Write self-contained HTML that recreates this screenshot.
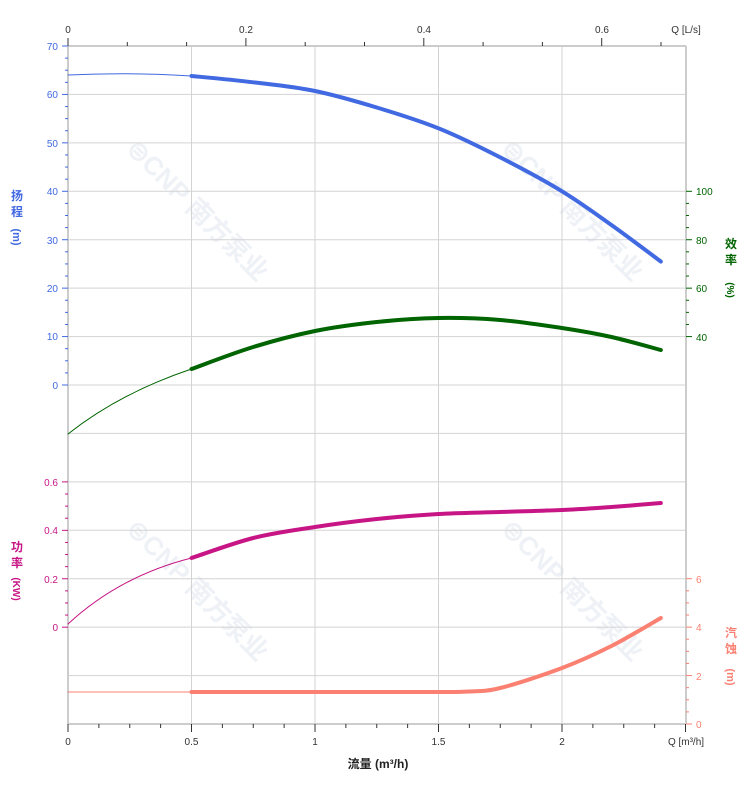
<!DOCTYPE html>
<html><head><meta charset="utf-8"><style>
html,body{margin:0;padding:0;background:#fff;}
svg{display:block;font-family:"Liberation Sans","Noto Sans CJK SC",sans-serif;}
</style></head><body>
<svg id="s" width="752" height="797" viewBox="0 0 752 797" xmlns="http://www.w3.org/2000/svg">
<g font-size="26" fill="#eef1f6" font-weight="bold">
<text transform="translate(125,150) rotate(45)">⊜CNP 南方泵业</text>
<text transform="translate(500,150) rotate(45)">⊜CNP 南方泵业</text>
<text transform="translate(125,530) rotate(45)">⊜CNP 南方泵业</text>
<text transform="translate(500,530) rotate(45)">⊜CNP 南方泵业</text>
</g>
<g stroke="#d3d3d3" stroke-width="1">
<line x1="68" y1="94.4" x2="686" y2="94.4"/><line x1="68" y1="142.9" x2="686" y2="142.9"/><line x1="68" y1="191.3" x2="686" y2="191.3"/><line x1="68" y1="239.7" x2="686" y2="239.7"/><line x1="68" y1="288.1" x2="686" y2="288.1"/><line x1="68" y1="336.6" x2="686" y2="336.6"/><line x1="68" y1="385" x2="686" y2="385"/><line x1="68" y1="433.4" x2="686" y2="433.4"/><line x1="68" y1="481.9" x2="686" y2="481.9"/><line x1="68" y1="530.3" x2="686" y2="530.3"/><line x1="68" y1="578.7" x2="686" y2="578.7"/><line x1="68" y1="627.1" x2="686" y2="627.1"/><line x1="68" y1="675.6" x2="686" y2="675.6"/>
<line x1="191.5" y1="46" x2="191.5" y2="724"/><line x1="315" y1="46" x2="315" y2="724"/><line x1="438.5" y1="46" x2="438.5" y2="724"/><line x1="562" y1="46" x2="562" y2="724"/>
</g>
<line x1="68" y1="724" x2="686" y2="724" stroke="#ccc" stroke-width="2"/>
<line x1="68" y1="46" x2="686" y2="46" stroke="#ccc" stroke-width="2"/>
<line x1="68" y1="46" x2="68" y2="724" stroke="#ccc" stroke-width="2"/>
<line x1="686" y1="46" x2="686" y2="724" stroke="#ccc" stroke-width="2"/>
<g id="ticks" stroke-width="1"></g>
<g font-size="10" fill="#333" text-anchor="middle">
<text x="68" y="745">0</text><text x="191.5" y="745">0.5</text><text x="315" y="745">1</text><text x="438.5" y="745">1.5</text><text x="562" y="745">2</text><text x="686" y="745">Q [m³/h]</text>
<text x="68" y="33">0</text><text x="246" y="33">0.2</text><text x="424" y="33">0.4</text><text x="602" y="33">0.6</text><text x="686" y="33">Q [L/s]</text>
</g>
<text x="378" y="768" font-size="12" font-weight="bold" text-anchor="middle" fill="#222">流量 (m³/h)</text>
<g font-size="10" fill="#4169e1" text-anchor="end">
<text x="58" y="50">70</text><text x="58" y="98">60</text><text x="58" y="147">50</text><text x="58" y="195">40</text><text x="58" y="244">30</text><text x="58" y="292">20</text><text x="58" y="340">10</text><text x="58" y="389">0</text>
</g>
<g font-size="10" fill="#c71585" text-anchor="end">
<text x="58" y="486">0.6</text><text x="58" y="534">0.4</text><text x="58" y="583">0.2</text><text x="58" y="631">0</text>
</g>
<g font-size="10" fill="#006400">
<text x="696" y="195">100</text><text x="696" y="244">80</text><text x="696" y="292">60</text><text x="696" y="341">40</text>
</g>
<g font-size="10" fill="#fa8072">
<text x="696" y="583">6</text><text x="696" y="631">4</text><text x="696" y="680">2</text><text x="696" y="728">0</text>
</g>
<g font-size="12" font-weight="bold" text-anchor="middle">
<text x="17" y="200" fill="#4169e1">扬</text><text x="17" y="216" fill="#4169e1">程</text><text transform="translate(13,237) rotate(90)" fill="#4169e1" font-size="11">(m)</text>
<text x="17" y="551" fill="#c71585">功</text><text x="17" y="567" fill="#c71585">率</text><text transform="translate(13,589) rotate(90)" fill="#c71585" font-size="10">(KW)</text>
<text x="731" y="248" fill="#006400">效</text><text x="731" y="264" fill="#006400">率</text><text transform="translate(727,290) rotate(90)" fill="#006400" font-size="10">(%)</text>
<text x="731" y="637" fill="#fa8072">汽</text><text x="731" y="653" fill="#fa8072">蚀</text><text transform="translate(727,677) rotate(90)" fill="#fa8072" font-size="11">(m)</text>
</g>
<g fill="none" stroke-linecap="round" stroke-linejoin="round">
<path d="M68,75 Q130,72 191.5,76" stroke="#4169e1" stroke-width="1"/>
<path id="h" stroke="#4169e1" stroke-width="4"/>
<path d="M68,434 Q120,393 191.5,369" stroke="#006400" stroke-width="1"/>
<path id="e" stroke="#006400" stroke-width="4"/>
<path d="M68,624 Q120,576 191.5,558" stroke="#c71585" stroke-width="1"/>
<path id="p" stroke="#c71585" stroke-width="4"/>
<path d="M68,692 L191.5,692" stroke="#fa8072" stroke-width="1"/>
<path id="n" stroke="#fa8072" stroke-width="4"/>
</g>
</svg>
<script>
function X(q){return 68+247*q;}
function cr(pts){var d="M"+pts[0][0]+","+pts[0][1];for(var i=0;i<pts.length-1;i++){var p0=pts[i-1]||pts[i],p1=pts[i],p2=pts[i+1],p3=pts[i+2]||p2;
d+=" C"+(p1[0]+(p2[0]-p0[0])/6).toFixed(1)+","+(p1[1]+(p2[1]-p0[1])/6).toFixed(1)+" "+(p2[0]-(p3[0]-p1[0])/6).toFixed(1)+","+(p2[1]-(p3[1]-p1[1])/6).toFixed(1)+" "+p2[0]+","+p2[1];}return d;}
function P(a){return a.map(function(v){return [X(v[0]),v[1]];});}
document.getElementById("h").setAttribute("d",cr(P([[0.5,76],[0.75,82.3],[1,91],[1.25,107.5],[1.5,128.3],[1.75,157.4],[2,191.3],[2.2,225],[2.4,261.5]])));
document.getElementById("e").setAttribute("d",cr(P([[0.5,369],[0.75,347],[1,331],[1.25,322],[1.5,318],[1.75,320],[2,328],[2.2,337],[2.4,350]])));
document.getElementById("p").setAttribute("d",cr(P([[0.5,558],[0.75,538],[1,527],[1.25,519],[1.5,514],[1.75,512],[2,510],[2.2,507],[2.4,503]])));
document.getElementById("n").setAttribute("d",cr(P([[0.5,692],[1.0,692],[1.5,692],[1.62,691.5],[1.75,688],[2,668],[2.2,646],[2.4,618]])));
var g=document.getElementById("ticks"),s="";
function L(x1,y1,x2,y2,c){s+='<line x1="'+x1+'" y1="'+y1+'" x2="'+x2+'" y2="'+y2+'" stroke="'+c+'"/>';}
for(var i=0;i<=20;i++){var x=68+i*30.875;L(x,724,x,i%4==0?732:728,"#333");}
for(var i=0;i<=10;i++){var x=68+i*59.3;L(x,46,x,(i%3==0)?38:42,"#333");}
for(var i=0;i<=28;i++){var y=46+i*12.107;L(68,y,i%4==0?62:65,y,"#4169e1");}
for(var i=0;i<=12;i++){var y=481.9+i*12.107;L(68,y,i%4==0?62:65,y,"#c71585");}
for(var i=0;i<=12;i++){var y=191.3+i*12.107;L(686,y,i%4==0?692:689,y,"#006400");}
for(var i=0;i<=12;i++){var y=578.7+i*12.107;L(686,y,i%4==0?692:689,y,"#fa8072");}
g.innerHTML=s;
</script>
</body></html>
